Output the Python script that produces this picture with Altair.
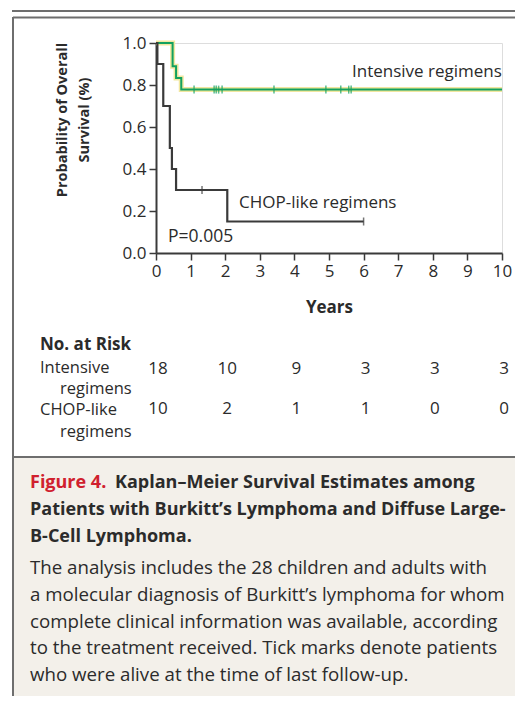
import altair as alt
import pandas as pd

# ---- data ----
int_time = [0.0, 0.48, 0.58, 0.73, 10.0]
int_surv = [1.0, 0.889, 0.833, 0.778, 0.778]
chop_time = [0.0, 0.04, 0.21, 0.40, 0.46, 0.58, 2.06, 6.0]
chop_surv = [1.0, 0.9, 0.7, 0.5, 0.4, 0.3, 0.15, 0.15]
int_cens_time = [1.10, 1.68, 1.74, 1.81, 1.91, 3.41, 4.91, 5.34, 5.57, 5.64]
int_cens_surv = [0.778] * len(int_cens_time)
chop_cens_time = [1.33, 6.0]
chop_cens_surv = [0.3, 0.15]
risk_times = [0, 2, 4, 6, 8, 10]
risk_intensive = [18, 10, 9, 3, 3, 3]
risk_chop = [10, 2, 1, 1, 0, 0]
x_ticks = list(range(0, 11))
y_ticks = [0.0, 0.2, 0.4, 0.6, 0.8, 1.0]

FONT = "Open Sans"
TXT = "#2b2b2b"
GREEN = "#12a15f"
HALO = "#f1e7a0"
DARK = "#3a3a3a"
BORDER = "#6e6e6e"

# plot area origin in page pixels
X0, Y0 = 156, 43
W, H = 346, 210
TOTAL_W, TOTAL_H = 507, 688


def rx(x):
    return x - X0


def ry(y):
    return y - Y0


km_int = pd.DataFrame({"t": int_time, "s": int_surv})
km_chop = pd.DataFrame({"t": chop_time, "s": chop_surv})
cens_int = pd.DataFrame({"t": int_cens_time, "s": int_cens_surv})
cens_chop = pd.DataFrame({"t": chop_cens_time, "s": chop_cens_surv})
risk_df = pd.DataFrame({"t": risk_times, "ni": risk_intensive, "nc": risk_chop})
one = pd.DataFrame({"a": [0]})

xscale = alt.Scale(domain=[0, 10], nice=False, zero=False)
yscale = alt.Scale(domain=[0, 1], nice=False)

x_axis = alt.Axis(values=x_ticks, format="d", title="Years", titleFontSize=17,
                  titleFontWeight="bold", titleFont=FONT, titleColor=TXT,
                  titlePadding=20, labelFont=FONT, labelFontSize=17, labelColor=TXT,
                  labelPadding=3, labelFlush=False, tickSize=7, tickWidth=1.5,
                  tickColor=DARK, domainColor=DARK, domainWidth=2, grid=False)
y_axis = alt.Axis(values=y_ticks, format=".1f", title=None, labelFont=FONT,
                  labelFontSize=17, labelColor=TXT, labelPadding=3, labelFlush=False,
                  tickSize=7, tickWidth=1.5, tickColor=DARK, domainColor=DARK,
                  domainWidth=2, grid=False)

X = alt.X("t:Q", scale=xscale, axis=x_axis)
Y = alt.Y("s:Q", scale=yscale, axis=y_axis)


def rule(x1, x2, y1, y2, color=BORDER, w=2):
    return alt.Chart(one).mark_rule(color=color, strokeWidth=w).encode(
        x=alt.value(rx(x1)), x2=alt.value(rx(x2)),
        y=alt.value(ry(y1)), y2=alt.value(ry(y2)))


def text(s, x, y, size=17, weight="normal", color=TXT, align="left", angle=0):
    return alt.Chart(one).mark_text(
        text=s, font=FONT, fontSize=size, fontWeight=weight, color=color,
        align=align, baseline="middle", angle=angle).encode(
        x=alt.value(rx(x)), y=alt.value(ry(y)))


caption_bg = alt.Chart(one).mark_rect(color="#f3f0ea").encode(
    x=alt.value(rx(13)), x2=alt.value(rx(530)),
    y=alt.value(ry(457)), y2=alt.value(ry(720)))

decor = [
    caption_bg,
    rule(12, 530, 11, 11),
    rule(13, 530, 17.5, 17.5),
    rule(13, 13, 17, 720),
    rule(13, 530, 457, 457),
]

halo = alt.Chart(km_int).mark_line(interpolate="step-after", color=HALO,
                                   strokeWidth=5).encode(x=X, y=Y)
green = alt.Chart(km_int).mark_line(interpolate="step-after", color=GREEN,
                                    strokeWidth=2).encode(x=X, y=Y)
chop = alt.Chart(km_chop).mark_line(interpolate="step-after", color=DARK,
                                    strokeWidth=2.2).encode(x=X, y=Y)
ticks_int = alt.Chart(cens_int).mark_tick(orient="vertical", color=GREEN, size=8,
                                          thickness=1.5).encode(x=X, y=Y)
ticks_chop = alt.Chart(cens_chop).mark_tick(orient="vertical", color=DARK, size=8,
                                            thickness=1.5).encode(x=X, y=Y)

risk_i = alt.Chart(risk_df).mark_text(font=FONT, fontSize=17, color=TXT,
                                      baseline="middle", dx=2).encode(
    x=X, y=alt.value(ry(369)), text="ni:Q")
risk_c = alt.Chart(risk_df).mark_text(font=FONT, fontSize=17, color=TXT,
                                      baseline="middle", dx=2).encode(
    x=X, y=alt.value(ry(409)), text="nc:Q")

BODY = 18.7
labels = [
    text("Intensive regimens", 352, 72),
    text("CHOP-like regimens", 239, 203),
    text("P=0.005", 168, 237, size=17.5),
    text("Probability of Overall", 63, 120, size=14.5, weight="bold", align="center", angle=270),
    text("Survival (%)", 85, 120, size=14.5, weight="bold", align="center", angle=270),
    text("No. at Risk", 40, 345, size=17, weight="bold"),
    text("Intensive", 40, 368, size=16.5),
    text("regimens", 60, 389, size=16.5),
    text("CHOP-like", 40, 410, size=16.5),
    text("regimens", 60, 432, size=16.5),
    text("Figure 4.", 30, 483, size=18, weight="bold", color="#d0202e"),
    text("Kaplan–Meier Survival Estimates among", 115, 483, size=18, weight="bold"),
    text("Patients with Burkitt’s Lymphoma and Diffuse Large-", 30, 510, size=18, weight="bold"),
    text("B-Cell Lymphoma.", 30, 537, size=18, weight="bold"),
    text("The analysis includes the 28 children and adults with", 30, 568, size=BODY),
    text("a molecular diagnosis of Burkitt’s lymphoma for whom", 30, 595, size=BODY),
    text("complete clinical information was available, according", 30, 622, size=BODY),
    text("to the treatment received. Tick marks denote patients", 30, 648, size=BODY),
    text("who were alive at the time of last follow-up.", 30, 675, size=BODY),
]

chart = alt.layer(
    *decor, halo, green, chop, ticks_int, ticks_chop, risk_i, risk_c, *labels
).properties(
    width=W, height=H,
    autosize=alt.AutoSizeParams(type="none"),
    padding={"left": X0 - 8, "top": Y0 - 8, "right": TOTAL_W - (X0 - 8) - W,
             "bottom": TOTAL_H - (Y0 - 8) - H},
).configure_view(fill="#f6f8fb", stroke=None).configure(background="white")

chart.save("out.html", embed_options={"renderer": "svg", "actions": False})
